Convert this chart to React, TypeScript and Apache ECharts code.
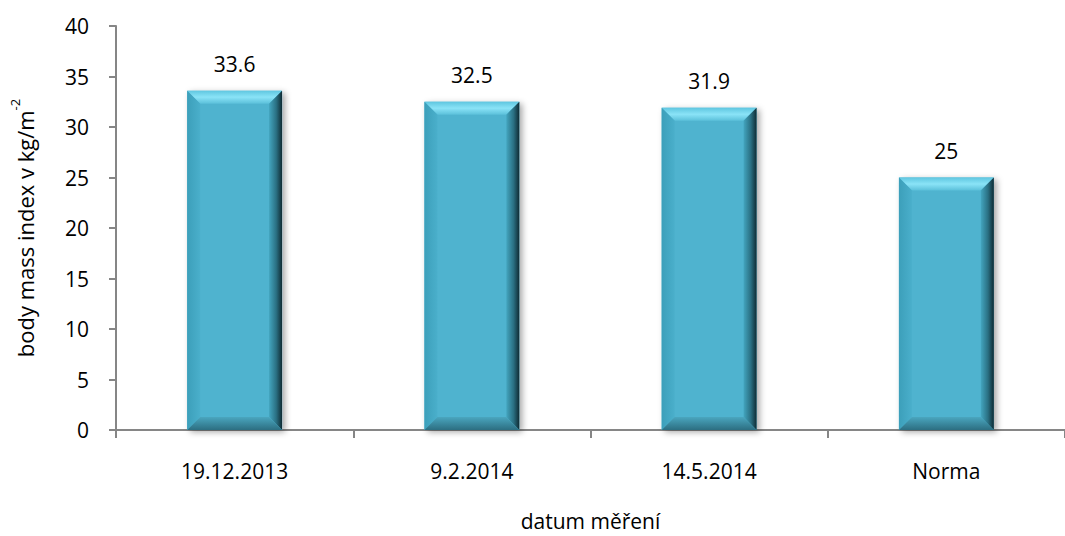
import React, { useEffect, useRef } from "react";
import * as echarts from "echarts";

const categories = ["19.12.2013", "9.2.2014", "14.5.2014", "Norma"];
const bmiValues = [33.6, 32.5, 31.9, 25];
const yTicks = { min: 0, max: 40, interval: 5 };

const FONT = "Open Sans";
const FS = 21;

export default function App() {
  const ref = useRef<HTMLDivElement>(null);
  useEffect(() => {
    document.body.style.margin = "0";
    const chart = echarts.init(ref.current!, null, { renderer: "svg" });
    const option: any = {
      animation: false,
      backgroundColor: "#ffffff",
      grid: { left: 109, top: 26, bottom: 106, width: 968 },
      xAxis: {
        type: "category",
        data: categories,
        name: "datum měření",
        nameLocation: "middle",
        nameGap: 80,
        nameTextStyle: { fontFamily: FONT, fontSize: FS, color: "#000" },
        axisLine: { lineStyle: { color: "#868686", width: 2 } },
        axisTick: { show: true, length: 8, lineStyle: { color: "#868686", width: 2 } },
        axisLabel: { fontFamily: FONT, fontSize: FS, color: "#000", margin: 30 },
        splitLine: { show: false },
      },
      yAxis: {
        type: "value",
        min: yTicks.min,
        max: yTicks.max,
        interval: yTicks.interval,
        name: "body mass index v kg/m{sup|-2}",
        nameLocation: "middle",
        nameGap: 74,
        nameTextStyle: {
          fontFamily: FONT,
          fontSize: 22,
          color: "#000",
          rich: { sup: { fontFamily: FONT, fontSize: 13, verticalAlign: "top", lineHeight: 34, color: "#000" } },
        },
        axisLine: { show: true, lineStyle: { color: "#868686", width: 2 } },
        axisTick: { show: true, length: 7, lineStyle: { color: "#868686", width: 2 } },
        axisLabel: { fontFamily: FONT, fontSize: FS, color: "#000", margin: 27 },
        splitLine: { show: false },
      },
      series: [
        {
          type: "custom",
          data: bmiValues.map((v, i) => [i, v]),
          encode: { x: 0, y: 1 },
          renderItem: (params: any, api: any) => {
            const v = api.value(1);
            const top = api.coord([api.value(0), v]);
            const base = api.coord([api.value(0), 0]);
            const bw = api.size([1, 0])[0] * 0.4;
            const l = top[0] - bw / 2;
            const r = top[0] + bw / 2;
            const t = top[1];
            const b = base[1];
            const d = 13;
            return {
              type: "group",
              children: [
                {
                  type: "rect",
                  shape: { x: l, y: t, width: bw, height: b - t },
                  style: { fill: "#50B3CF", shadowBlur: 6, shadowOffsetX: 3, shadowOffsetY: 2, shadowColor: "rgba(0,0,0,0.35)" },
                },
                {
                  type: "polygon",
                  shape: { points: [[l, t], [r, t], [r - d, t + d], [l + d, t + d]] },
                  style: {
                    fill: new echarts.graphic.LinearGradient(0, 0, 0, 1, [
                      { offset: 0, color: "#5FC6E0" },
                      { offset: 0.5, color: "#8AE3F7" },
                      { offset: 1, color: "#5BC0DA" },
                    ]),
                  },
                },
                {
                  type: "polygon",
                  shape: { points: [[l, t], [l + d, t + d], [l + d, b - d], [l, b]] },
                  style: {
                    fill: new echarts.graphic.LinearGradient(0, 0, 1, 0, [
                      { offset: 0, color: "#3C9FBA" },
                      { offset: 1, color: "#4AAFCB" },
                    ]),
                  },
                },
                {
                  type: "polygon",
                  shape: { points: [[r, t], [r, b], [r - d, b - d], [r - d, t + d]] },
                  style: {
                    fill: new echarts.graphic.LinearGradient(0, 0, 1, 0, [
                      { offset: 0, color: "#43A5BF" },
                      { offset: 0.55, color: "#2A7083" },
                      { offset: 1, color: "#0F2B33" },
                    ]),
                  },
                },
                {
                  type: "polygon",
                  shape: { points: [[l, b], [l + d, b - d], [r - d, b - d], [r, b]] },
                  style: {
                    fill: new echarts.graphic.LinearGradient(0, 0, 0, 1, [
                      { offset: 0, color: "#4AA6BF" },
                      { offset: 1, color: "#2C6E81" },
                    ]),
                  },
                },
                {
                  type: "text",
                  style: {
                    x: top[0],
                    y: t - 16,
                    text: String(v),
                    fontFamily: FONT,
                    fontSize: FS,
                    fill: "#000",
                    align: "center",
                    verticalAlign: "bottom",
                  },
                },
              ],
            };
          },
        },
      ],
    };
    chart.setOption(option);
    return () => chart.dispose();
  }, []);
  return <div ref={ref} style={{ width: 1065, height: 536 }} />;
}
